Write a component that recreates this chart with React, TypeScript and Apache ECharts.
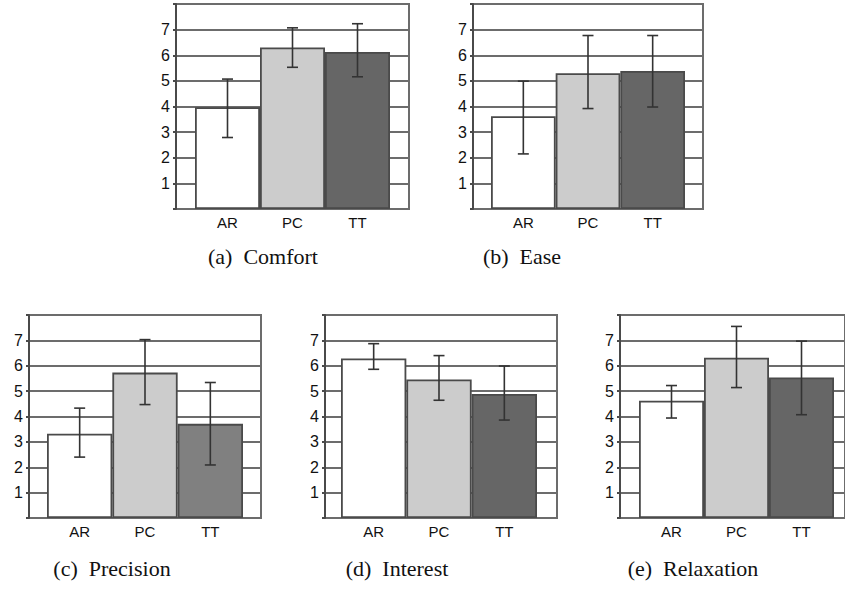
import React, { useEffect, useRef } from "react";
import * as echarts from "echarts";

// ---------- data ----------
const categories = ["AR", "PC", "TT"];
const yTickLabels = ["1", "2", "3", "4", "5", "6", "7"];
const captions = ["(a)  Comfort", "(b)  Ease", "(c)  Precision", "(d)  Interest", "(e)  Relaxation"];

const comfortMean = [3.97, 6.3, 6.13];
const comfortLow = [2.79, 5.53, 5.16];
const comfortHigh = [5.07, 7.07, 7.23];

const easeMean = [3.62, 5.3, 5.39];
const easeLow = [2.15, 3.92, 3.98];
const easeHigh = [4.99, 6.77, 6.77];

const precisionMean = [3.32, 5.73, 3.71];
const precisionLow = [2.4, 4.47, 2.09];
const precisionHigh = [4.33, 7.03, 5.34];

const interestMean = [6.29, 5.46, 4.89];
const interestLow = [5.86, 4.64, 3.86];
const interestHigh = [6.87, 6.4, 5.99];

const relaxationMean = [4.62, 6.32, 5.54];
const relaxationLow = [3.94, 5.14, 4.07];
const relaxationHigh = [5.22, 7.55, 6.97];

const defaultColors = ["#ffffff", "#cccccc", "#666666"];
const precisionColors = ["#ffffff", "#cccccc", "#808080"];

// ---------- layout ----------
const panels = [
  { mean: comfortMean, low: comfortLow, high: comfortHigh, colors: defaultColors,
    bg: { left: 176, top: 4, width: 233, height: 205 }, fgLeft: 195, fgWidth: 195, cap: [263, 256] },
  { mean: easeMean, low: easeLow, high: easeHigh, colors: defaultColors,
    bg: { left: 473, top: 4, width: 230, height: 205 }, fgLeft: 491, fgWidth: 194, cap: [522, 256] },
  { mean: precisionMean, low: precisionLow, high: precisionHigh, colors: precisionColors,
    bg: { left: 29, top: 315, width: 232, height: 203 }, fgLeft: 47, fgWidth: 196, cap: [112, 568] },
  { mean: interestMean, low: interestLow, high: interestHigh, colors: defaultColors,
    bg: { left: 325, top: 315, width: 232, height: 203 }, fgLeft: 341, fgWidth: 196, cap: [397, 568] },
  { mean: relaxationMean, low: relaxationLow, high: relaxationHigh, colors: defaultColors,
    bg: { left: 620, top: 315, width: 233, height: 203 }, fgLeft: 639, fgWidth: 195, cap: [693, 568] },
];

const GRID_COLOR = "#6c6c6c";
const AXIS_COLOR = "#4a4a4a";
const SANS = "'Liberation Sans', Arial, sans-serif";

export default function App() {
  const ref = useRef<HTMLDivElement>(null);

  useEffect(() => {
    if (!ref.current) return;
    const chart = echarts.init(ref.current, undefined, { renderer: "svg" });

    const grid: any[] = [];
    const xAxis: any[] = [];
    const yAxis: any[] = [];
    const series: any[] = [];
    const graphic: any[] = [];

    panels.forEach((p, k) => {
      const bgIdx = grid.length;
      grid.push({
        left: p.bg.left, top: p.bg.top, width: p.bg.width, height: p.bg.height,
        show: true, borderColor: GRID_COLOR, borderWidth: 2, backgroundColor: "transparent",
      });
      const fgIdx = grid.length;
      grid.push({ left: p.fgLeft, top: p.bg.top, width: p.fgWidth, height: p.bg.height });

      // background axes
      xAxis.push({ gridIndex: bgIdx, type: "value", show: false, min: 0, max: 1 });
      yAxis.push({
        gridIndex: bgIdx, type: "value", min: 0, max: 8, interval: 1,
        axisLine: { show: true, lineStyle: { color: AXIS_COLOR, width: 2 } },
        axisTick: { show: true, length: 3, lineStyle: { color: AXIS_COLOR, width: 2 } },
        axisLabel: {
          margin: 6, fontSize: 16, fontFamily: SANS, color: "#111",
          formatter: (v: number) => (yTickLabels.includes(String(v)) ? String(v) : ""),
        },
        splitLine: { show: true, lineStyle: { color: GRID_COLOR, width: 2 } },
      });

      // foreground axes
      xAxis.push({
        gridIndex: fgIdx, type: "category", data: categories,
        axisLine: { show: false }, axisTick: { show: false },
        axisLabel: { margin: 6, fontSize: 15, fontFamily: SANS, color: "#111" },
      });
      yAxis.push({ gridIndex: fgIdx, type: "value", min: 0, max: 8, show: false, splitLine: { show: false } });

      const xi = xAxis.length - 1;
      const yi = yAxis.length - 1;

      series.push({
        type: "bar", xAxisIndex: xi, yAxisIndex: yi, barCategoryGap: "0%", barGap: "0%",
        data: p.mean.map((v, i) => ({
          value: v,
          itemStyle: { color: p.colors[i], borderColor: "#4a4a4a", borderWidth: 1.8 },
        })),
        z: 2,
      });

      series.push({
        type: "custom", xAxisIndex: xi, yAxisIndex: yi, z: 3,
        data: p.low.map((lo, i) => [i, lo, p.high[i]]),
        renderItem: (params: any, api: any) => {
          const x = api.value(0);
          const a = api.coord([x, api.value(1)]);
          const b = api.coord([x, api.value(2)]);
          const hw = 5.5;
          const st = { stroke: "#333333", lineWidth: 1.6 };
          return {
            type: "group",
            children: [
              { type: "line", shape: { x1: a[0], y1: a[1], x2: b[0], y2: b[1] }, style: st },
              { type: "line", shape: { x1: b[0] - hw, y1: b[1], x2: b[0] + hw, y2: b[1] }, style: st },
              { type: "line", shape: { x1: a[0] - hw, y1: a[1], x2: a[0] + hw, y2: a[1] }, style: st },
            ],
          };
        },
      });

      graphic.push({
        type: "text", x: p.cap[0], y: p.cap[1],
        style: {
          text: captions[k], fill: "#111", fontSize: 22,
          fontFamily: "'Liberation Serif', 'Times New Roman', serif",
          textAlign: "center", textVerticalAlign: "middle",
        },
      });
    });

    chart.setOption({
      animation: false,
      backgroundColor: "#ffffff",
      grid, xAxis, yAxis, series, graphic,
    });

    return () => chart.dispose();
  }, []);

  return (
    <div
      ref={ref}
      style={{ position: "absolute", left: 0, top: 0, width: 845, height: 596 }}
    />
  );
}
